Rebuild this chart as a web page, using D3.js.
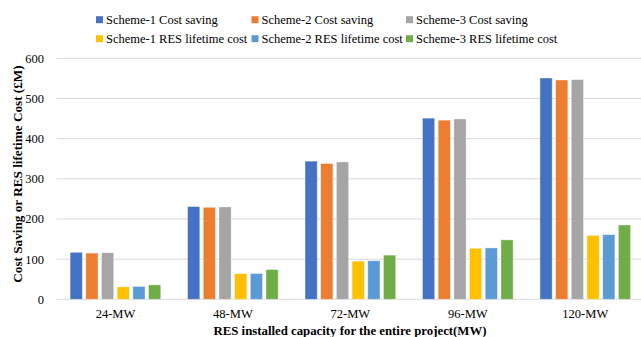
<!DOCTYPE html>
<html>
<head>
<meta charset="utf-8">
<script src="https://cdn.jsdelivr.net/npm/d3@7"></script>
<style>
  html, body { margin: 0; padding: 0; background: #fff; }
  svg { display: block; }
  text { font-family: "Liberation Serif", "Times New Roman", serif; fill: #000; }
</style>
</head>
<body>
<svg id="chart" width="641" height="337"></svg>
<script>
// Capacity categories
const categories = ["24-MW", "48-MW", "72-MW", "96-MW", "120-MW"];

// Series (£M)
const seriesNames = [
  "Scheme-1 Cost saving", "Scheme-2 Cost saving", "Scheme-3 Cost saving",
  "Scheme-1 RES lifetime cost", "Scheme-2 RES lifetime cost", "Scheme-3 RES lifetime cost"
];
const scheme1Saving = [117, 231, 344, 451, 551];
const scheme2Saving = [115, 229, 338, 446, 546];
const scheme3Saving = [116, 230, 342, 449, 547];
const scheme1RES    = [31, 64, 95, 127, 159];
const scheme2RES    = [32, 64, 96, 128, 161];
const scheme3RES    = [36, 74, 110, 148, 185];
const seriesValues = [scheme1Saving, scheme2Saving, scheme3Saving, scheme1RES, scheme2RES, scheme3RES];

const colors = ["#4472C4", "#ED7D31", "#A5A5A5", "#FFC000", "#5B9BD5", "#70AD47"];
const yTicks = [0, 100, 200, 300, 400, 500, 600];

const svg = d3.select("#chart");
const plot = { left: 56.7, right: 644, top: 58.3, bottom: 299.3 };

const x = d3.scaleBand().domain(categories).range([plot.left, plot.right]).paddingInner(0.228).paddingOuter(0.114);
const xs = d3.scaleBand().domain(d3.range(seriesNames.length)).range([0, x.bandwidth()]).paddingInner(0.22);
const y = d3.scaleLinear().domain([0, 600]).range([plot.bottom, plot.top]);

// Horizontal gridlines
svg.append("g").selectAll("line").data(yTicks).join("line")
  .attr("x1", plot.left).attr("x2", plot.right)
  .attr("y1", d => y(d)).attr("y2", d => y(d))
  .attr("stroke", "#d9d9d9").attr("stroke-width", 1);

// Y axis labels
const yAxis = d3.axisLeft(y).tickValues(yTicks).tickSize(0).tickPadding(0);
const gy = svg.append("g").attr("transform", `translate(44,0)`).call(yAxis);
gy.select(".domain").remove();
gy.selectAll("text").attr("font-size", 12.5).attr("font-family", "Liberation Serif").attr("fill", "#000").attr("dy", "0.32em");

// Bars
const groups = svg.append("g").selectAll("g").data(categories).join("g")
  .attr("transform", d => `translate(${x(d)},0)`);
groups.selectAll("rect")
  .data((c, ci) => seriesValues.map((vals, si) => ({ si, v: vals[ci] })))
  .join("rect")
  .attr("x", d => xs(d.si))
  .attr("width", xs.bandwidth())
  .attr("y", d => y(d.v))
  .attr("height", d => y(0) - y(d.v))
  .attr("fill", d => colors[d.si])
  .attr("stroke", "#fff").attr("stroke-opacity", 0.5).attr("stroke-width", 0.8);

// X axis labels
const xAxis = d3.axisBottom(x).tickSize(0).tickPadding(0);
const gx = svg.append("g").attr("transform", `translate(0,${plot.bottom})`).call(xAxis);
gx.select(".domain").remove();
gx.selectAll("text").attr("font-size", 12.5).attr("font-family", "Liberation Serif").attr("fill", "#000").attr("y", 14.7).attr("dy", "0.32em");

// Axis titles
svg.append("text")
  .attr("x", 350).attr("y", 335)
  .attr("text-anchor", "middle").attr("font-size", 12.8).attr("font-weight", "bold")
  .text("RES installed capacity for the entire project(MW)");

svg.append("text")
  .attr("transform", "translate(21.5,174) rotate(-90)")
  .attr("text-anchor", "middle").attr("font-size", 13.2).attr("font-weight", "bold")
  .text("Cost Saving or RES lifetime Cost (£M)");

// Legend
const legendCols = [96, 251.5, 406];
const legendRows = [19.7, 38.7];
const legend = svg.append("g").selectAll("g").data(seriesNames).join("g")
  .attr("transform", (d, i) => `translate(${legendCols[i % 3]},${legendRows[Math.floor(i / 3)]})`);
legend.append("rect").attr("x", 0).attr("y", -3.5).attr("width", 7).attr("height", 7)
  .attr("fill", (d, i) => colors[i]);
legend.append("text").attr("x", 10).attr("y", 0).attr("dy", "0.35em")
  .attr("font-size", 12.5).text(d => d);
</script>
</body>
</html>
